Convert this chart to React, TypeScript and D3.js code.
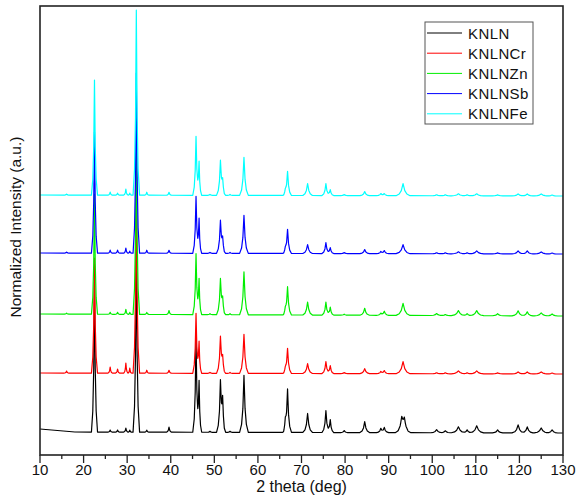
import React from "react";
import * as d3 from "d3";

// Peak positions (2θ, deg) shared by all samples, and half base widths (deg)
const peakPos = [16.1, 22.5, 26.1, 27.8, 29.7, 30.6, 32.1, 34.5, 39.6, 45.8, 46.5, 49.0, 51.4, 51.9, 53.6, 56.8, 66.3, 66.8, 71.4, 75.6, 76.6, 79.8, 84.5, 88.2, 89.0, 93.0, 93.3, 93.6, 101.0, 103.0, 106.0, 108.0, 110.2, 115.0, 119.7, 121.8, 125.0, 127.5];
const peakHalfWidth = [0.5, 0.7, 0.5, 0.5, 0.5, 0.4, 0.75, 0.5, 0.6, 0.75, 0.6, 0.6, 0.9, 0.7, 0.6, 1.0, 0.6, 0.9, 1.1, 0.9, 0.8, 0.8, 1.1, 1.0, 1.0, 1.5, 1.6, 1.5, 1.3, 1.1, 1.6, 1.1, 1.6, 1.2, 1.4, 1.3, 1.6, 1.3];

// Peak intensities (a.u.) per sample
const knln = [0, 150, 2, 2, 4, 2, 183, 2, 5, 95, 50, 1, 50, 30, 1, 57, 10, 43, 19, 22, 13, 2, 11, 4, 5, 13, 0, 12, 3, 2, 6, 3, 7, 3, 8, 6, 5, 3];
const knlnCr = [2, 115, 6, 4, 10, 5, 183, 3, 3, 60, 31, 1, 36, 14, 1, 39, 4, 25, 10, 12, 8, 1, 5, 2, 3, 0, 12, 0, 1, 1, 3, 1, 3, 1, 2, 2, 2, 1];
const knlnZn = [1, 120, 2, 2, 5, 2, 183, 2, 4, 61, 35, 1, 35, 14, 1, 43, 5, 28, 13, 13, 8, 1, 7, 2, 4, 0, 12, 0, 2, 1, 5, 2, 5, 2, 5, 4, 3, 2];
const knlnSb = [1, 121, 3, 3, 5, 2, 180, 3, 3, 57, 34, 1, 32, 13, 1, 38, 4, 24, 9, 11, 6, 1, 4, 2, 3, 0, 9, 0, 1, 1, 2, 1, 3, 1, 3, 3, 2, 1];
const knlnFe = [1, 115, 3, 2, 6, 2, 185, 3, 3, 59, 33, 1, 34, 13, 1, 38, 4, 24, 12, 12, 6, 1, 4, 2, 2, 0, 12, 0, 1, 1, 2, 1, 2, 1, 2, 2, 2, 1];

// Baseline (stack offset) per sample, as [2θ, level] points
const knlnBase: [number, number][] = [[10, 26], [18, 23], [130, 22]];
const knlnCrBase: [number, number][] = [[10, 82], [130, 81]];
const knlnZnBase: [number, number][] = [[10, 141], [130, 139]];
const knlnSbBase: [number, number][] = [[10, 202], [130, 201]];
const knlnFeBase: [number, number][] = [[10, 260], [130, 259]];

const seriesNames = ["KNLN", "KNLNCr", "KNLNZn", "KNLNSb", "KNLNFe"];
const seriesColors = ["#000000", "#ff0000", "#00ee00", "#0000ff", "#00ffff"];
const seriesPeaks = [knln, knlnCr, knlnZn, knlnSb, knlnFe];
const seriesBases = [knlnBase, knlnCrBase, knlnZnBase, knlnSbBase, knlnFeBase];

const xTicks = [10, 20, 30, 40, 50, 60, 70, 80, 90, 100, 110, 120, 130];

// peak profile shape (relative offset within half width -> fraction of height)
const profileOffset = [-1, -0.55, -0.25, 0, 0.25, 0.55, 1];
const profileFrac = [0, 0.14, 0.42, 1, 0.42, 0.14, 0];

const W = 577, H = 502;
const L = 40, R = 563, T = 6, B = 455;

function buildSeries(peaks: number[], base: [number, number][]) {
  const xsSet = new Set<number>([10, 130]);
  base.forEach((b) => xsSet.add(b[0]));
  peakPos.forEach((p, i) => {
    if (peaks[i] > 0) profileOffset.forEach((o) => xsSet.add(p + o * peakHalfWidth[i]));
  });
  const xs = Array.from(xsSet).filter((x) => x >= 10 && x <= 130).sort((a, b) => a - b);
  const baseFn = d3.scaleLinear().domain(base.map((b) => b[0])).range(base.map((b) => b[1]));
  const prof = d3.scaleLinear().domain(profileOffset).range(profileFrac).clamp(true);
  return xs.map((x) => {
    let y = baseFn(x);
    peakPos.forEach((p, i) => {
      const rel = (x - p) / peakHalfWidth[i];
      if (Math.abs(rel) < 1) y += peaks[i] * prof(rel);
    });
    return [x, y] as [number, number];
  });
}

export default function App() {
  const x = d3.scaleLinear().domain([10, 130]).range([L, R]);
  const y = d3.scaleLinear().domain([0, 449]).range([B, T]);
  const line = d3.line<[number, number]>().x((d) => x(d[0])).y((d) => y(d[1]));
  const minor = d3.range(15, 130, 10);
  const font = "'Liberation Sans', Arial, sans-serif";

  return (
    <svg width={W} height={H} style={{ position: "absolute", left: 0, top: 0, background: "#fff" }} fontFamily={font}>
      <defs>
        <clipPath id="clip">
          <rect x={L} y={T} width={R - L} height={B - T} />
        </clipPath>
      </defs>
      <g clipPath="url(#clip)">
        {seriesPeaks.map((pk, i) => (
          <path key={i} d={line(buildSeries(pk, seriesBases[i])) || ""} fill="none" stroke={seriesColors[i]} strokeWidth={1.2} strokeLinejoin="round" />
        ))}
      </g>
      <rect x={L} y={T} width={R - L} height={B - T} fill="none" stroke="#222" strokeWidth={1.6} />
      {xTicks.map((t) => (
        <g key={t}>
          <line x1={x(t)} x2={x(t)} y1={B} y2={B + 8} stroke="#222" strokeWidth={1.3} />
          <text x={x(t)} y={B + 20} textAnchor="middle" fontSize={15} fill="#111">{t}</text>
        </g>
      ))}
      {minor.map((t) => (
        <line key={t} x1={x(t)} x2={x(t)} y1={B} y2={B + 4} stroke="#222" strokeWidth={1.3} />
      ))}
      <text x={(L + R) / 2} y={B + 37} textAnchor="middle" fontSize={16} fill="#111">2 theta (deg)</text>
      <text transform={`translate(21, 227) rotate(-90)`} textAnchor="middle" fontSize={15.5} fill="#111">Normalized Intensity (a.u.)</text>
      <g>
        <rect x={425} y={22} width={108} height={102} fill="#fff" stroke="#555" strokeWidth={1} />
        {seriesNames.map((n, i) => (
          <g key={n}>
            <line x1={427} x2={462} y1={33 + i * 20.2} y2={33 + i * 20.2} stroke={seriesColors[i]} strokeWidth={1} />
            <text x={468} y={38.5 + i * 20.2} fontSize={15} letterSpacing={0.4} fill="#111">{n}</text>
          </g>
        ))}
      </g>
    </svg>
  );
}
